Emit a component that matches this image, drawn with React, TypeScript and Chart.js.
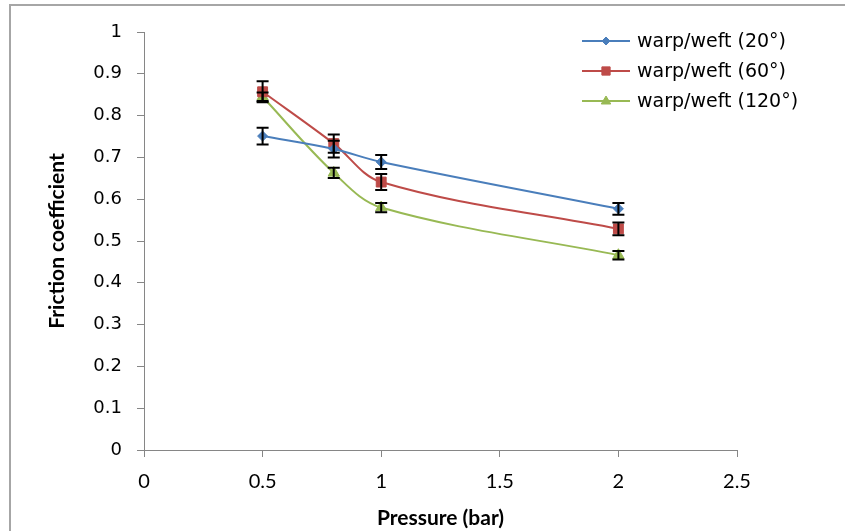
import React, { useEffect, useRef } from "react";
import { Chart, registerables } from "chart.js";

Chart.register(...registerables);

// ---- data ----
const pressures = [0.5, 0.8, 1, 2];
const seriesLabels = ["warp/weft (20°)", "warp/weft (60°)", "warp/weft (120°)"];
const warp20 = [0.751, 0.72, 0.689, 0.577];
const warp60 = [0.857, 0.733, 0.641, 0.529];
const warp120 = [0.845, 0.663, 0.58, 0.466];
const err20 = [0.02, 0.02, 0.017, 0.014];
const err60 = [0.025, 0.022, 0.019, 0.015];
const err120 = [0.01, 0.012, 0.011, 0.01];
const xTickLabels = ["0", "0.5", "1", "1.5", "2", "2.5"];
const yTickLabels = ["0", "0.1", "0.2", "0.3", "0.4", "0.5", "0.6", "0.7", "0.8", "0.9", "1"];
const xTitle = "Pressure (bar)";
const yTitle = "Friction coefficient";

const colors = ["#4A7EBB", "#BE4B48", "#98B954"];
const pointStyles = ["rectRot", "rect", "triangle"];
const pointRadii = [5, 7, 6.5];
const seriesValues = [warp20, warp60, warp120];
const seriesErrors = [err20, err60, err120];

const borderPlugin = {
  id: "outerBorder",
  beforeDraw(chart: any) {
    const ctx = chart.ctx;
    ctx.save();
    ctx.fillStyle = "#ffffff";
    ctx.fillRect(0, 0, chart.width, chart.height);
    ctx.strokeStyle = "#A6A6A6";
    ctx.lineWidth = 2;
    ctx.strokeRect(10, 5, 900, 600);
    ctx.restore();
  },
};

const errorBarPlugin = {
  id: "errorBars",
  afterDatasetsDraw(chart: any) {
    const ctx = chart.ctx;
    const xs = chart.scales.x;
    const ys = chart.scales.y;
    ctx.save();
    ctx.strokeStyle = "#000000";
    ctx.lineWidth = 2;
    chart.data.datasets.forEach((ds: any, di: number) => {
      const errs = seriesErrors[di];
      ds.data.forEach((p: any, i: number) => {
        const x = xs.getPixelForValue(p.x);
        const yTop = ys.getPixelForValue(p.y + errs[i]);
        const yBot = ys.getPixelForValue(p.y - errs[i]);
        const cap = 6;
        ctx.beginPath();
        ctx.moveTo(x, yTop);
        ctx.lineTo(x, yBot);
        ctx.moveTo(x - cap, yTop);
        ctx.lineTo(x + cap, yTop);
        ctx.moveTo(x - cap, yBot);
        ctx.lineTo(x + cap, yBot);
        ctx.stroke();
      });
    });
    ctx.restore();
  },
};

function drawMarker(ctx: CanvasRenderingContext2D, style: string, x: number, y: number, r: number) {
  ctx.beginPath();
  if (style === "rect") {
    ctx.rect(x - r * 0.75, y - r * 0.75, r * 1.5, r * 1.5);
  } else if (style === "rectRot") {
    ctx.moveTo(x, y - r);
    ctx.lineTo(x + r, y);
    ctx.lineTo(x, y + r);
    ctx.lineTo(x - r, y);
    ctx.closePath();
  } else {
    ctx.moveTo(x, y - r);
    ctx.lineTo(x + r * 0.95, y + r * 0.6);
    ctx.lineTo(x - r * 0.95, y + r * 0.6);
    ctx.closePath();
  }
  ctx.fill();
  ctx.stroke();
}

const legendPlugin = {
  id: "customLegend",
  afterDraw(chart: any) {
    const ctx = chart.ctx;
    const rowY = [41, 71, 101];
    ctx.save();
    chart.data.datasets.forEach((ds: any, i: number) => {
      const y = rowY[i];
      ctx.strokeStyle = ds.borderColor;
      ctx.lineWidth = 2;
      ctx.beginPath();
      ctx.moveTo(582, y);
      ctx.lineTo(630, y);
      ctx.stroke();
      ctx.fillStyle = ds.pointBackgroundColor;
      ctx.strokeStyle = ds.pointBorderColor;
      ctx.lineWidth = 1;
      const r = i === 0 ? 4 : i === 1 ? 5.5 : 5;
      drawMarker(ctx, ds.pointStyle, 606, y, r);
      ctx.fillStyle = "#000000";
      ctx.font = "19px 'DejaVu Sans'";
      ctx.textBaseline = "middle";
      ctx.textAlign = "left";
      ctx.fillText(ds.label, 637, y + 1);
    });
    ctx.restore();
  },
};

export default function App() {
  const ref = useRef<HTMLCanvasElement | null>(null);

  useEffect(() => {
    if (!ref.current) return;
    const datasets = seriesLabels.map((label, i) => ({
      label,
      data: pressures.map((p, j) => ({ x: p, y: seriesValues[i][j] })),
      borderColor: colors[i],
      backgroundColor: colors[i],
      pointBackgroundColor: colors[i],
      pointBorderColor: colors[i],
      pointStyle: pointStyles[i],
      pointRadius: pointRadii[i],
      pointBorderWidth: 1,
      borderWidth: 2,
      tension: 0.35,
      fill: false,
    }));

    const axisColor = "#868686";
    const chart = new Chart(ref.current, {
      type: "line",
      data: { datasets },
      plugins: [borderPlugin, errorBarPlugin, legendPlugin],
      options: {
        animation: false,
        responsive: false,
        devicePixelRatio: 1,
        layout: { padding: { left: 0, right: 108, top: 32, bottom: 0 } },
        plugins: {
          legend: { display: false },
          tooltip: { enabled: false },
        },
        scales: {
          x: {
            type: "linear",
            min: 0,
            max: 2.5,
            afterFit(scale: any) {
              scale.height = 81;
            },
            ticks: {
              stepSize: 0.5,
              color: "#000000",
              padding: 13,
              font: { family: "Lato", size: 20 },
              callback: (_v: any, i: number) => xTickLabels[i],
            },
            grid: { drawOnChartArea: false, drawTicks: true, tickLength: 7, color: axisColor },
            border: { color: axisColor, width: 1 },
            title: {
              display: true,
              text: xTitle,
              color: "#000000",
              font: { family: "Lato", size: 21, weight: "bold" },
              padding: { top: 0, bottom: 0 },
            },
          },
          y: {
            type: "linear",
            min: 0,
            max: 1,
            afterFit(scale: any) {
              scale.width = 144;
            },
            ticks: {
              stepSize: 0.1,
              color: "#000000",
              padding: 15,
              font: { family: "DejaVu Sans", size: 18 },
              callback: (_v: any, i: number) => yTickLabels[i],
            },
            grid: { drawOnChartArea: false, drawTicks: true, tickLength: 7, color: axisColor },
            border: { color: axisColor, width: 1 },
            title: {
              display: true,
              text: yTitle,
              color: "#000000",
              font: { family: "Lato", size: 21, weight: "bold" },
              padding: { top: 45, bottom: 0 },
            },
          },
        },
      },
    } as any);
    return () => chart.destroy();
  }, []);

  return (
    <div style={{ position: "fixed", left: 0, top: 0, width: 845, height: 531, background: "#fff" }}>
      <canvas ref={ref} width={845} height={531} style={{ display: "block", width: 845, height: 531 }} />
    </div>
  );
}
